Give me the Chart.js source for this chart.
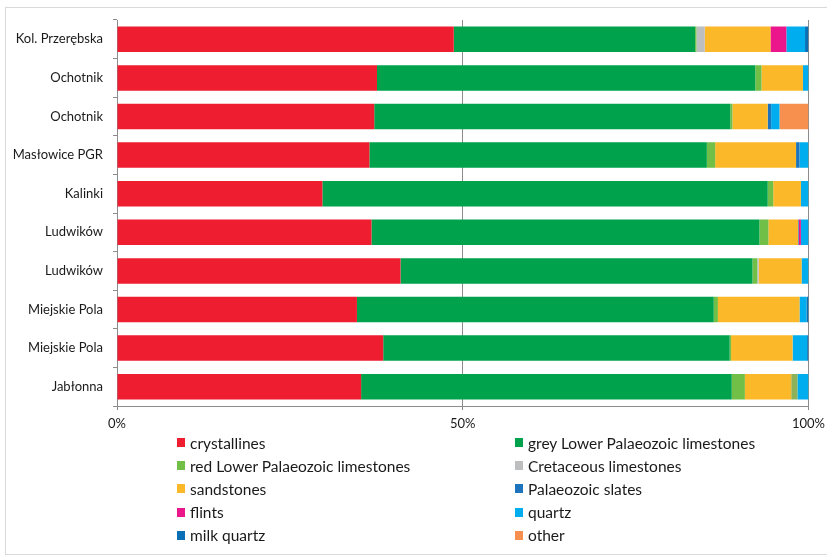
<!DOCTYPE html>
<html>
<head>
<meta charset="utf-8">
<script src="https://cdn.jsdelivr.net/npm/chart.js@4.4.1/dist/chart.umd.min.js"></script>
<style>
  html, body { margin: 0; padding: 0; background: #fff; }
  body { width: 827px; height: 555px; position: relative; overflow: hidden; font-family: Lato, sans-serif; }
  #frame { position: absolute; left: 5px; top: 7px; width: 900px; height: 546px; border: 1px solid #d9d9d9; }
  #wrap { position: absolute; left: 0; top: 0; width: 827px; height: 436px; }
  #legend { position: absolute; left: 177px; top: 431px; display: grid; grid-template-columns: 338px 300px; grid-auto-rows: 23.2px; color: #1a1a1a; font-size: 15.5px; }
  #legend .item { display: flex; align-items: center; white-space: nowrap; }
  #legend .box { width: 8px; height: 9px; margin-right: 5px; }
</style>
</head>
<body>
<div id="frame"></div>
<div id="wrap"><canvas id="chart"></canvas></div>
<div id="legend"></div>
<script>
var sites = ["Kol. Przerębska", "Ochotnik", "Ochotnik", "Masłowice PGR", "Kalinki", "Ludwików", "Ludwików", "Miejskie Pola", "Miejskie Pola", "Jabłonna"];

var crystallines = [48.7, 37.6, 37.2, 36.5, 29.7, 36.8, 41.0, 34.7, 38.5, 35.3];
var greyLimestones = [34.9, 54.7, 51.5, 48.8, 64.4, 56.1, 50.9, 51.6, 50.1, 53.6];
var redLimestones = [0.2, 0.9, 0.3, 1.2, 0.8, 1.3, 0.7, 0.6, 0.2, 1.9];
var cretaceous = [1.2, 0, 0, 0, 0, 0, 0.2, 0, 0, 0];
var sandstones = [9.5, 6.0, 5.1, 11.7, 4.0, 4.3, 6.2, 11.8, 8.9, 6.7];
var slates = [0, 0, 0.5, 0.5, 0, 0.1, 0, 0, 0, 0];
var flints = [2.3, 0, 0, 0, 0, 0.3, 0, 0, 0, 0];
var redLimestonesLate = [0, 0, 0, 0, 0, 0, 0, 0, 0, 0.9];
var quartz = [2.7, 0.8, 1.2, 1.3, 1.1, 1.1, 1.0, 1.0, 2.1, 1.6];
var milkQuartz = [0.5, 0, 0, 0, 0, 0, 0, 0.3, 0.2, 0];
var other = [0, 0, 4.2, 0, 0, 0, 0, 0, 0, 0];

var xTicks = ["0%", "50%", "100%"];

document.addEventListener("DOMContentLoaded", function() {
  var series = [
    { label: "crystallines", color: "#ee1d2f", data: crystallines },
    { label: "grey Lower Palaeozoic limestones", color: "#00a34c", data: greyLimestones },
    { label: "red Lower Palaeozoic limestones", color: "#72bf47", data: redLimestones },
    { label: "Cretaceous limestones", color: "#bcbec0", data: cretaceous },
    { label: "sandstones", color: "#fbb829", data: sandstones },
    { label: "Palaeozoic slates", color: "#1c75bc", data: slates },
    { label: "flints", color: "#ec168c", data: flints },
    { label: "", color: "#8db25a", data: redLimestonesLate, noLegend: true },
    { label: "quartz", color: "#00aeef", data: quartz },
    { label: "milk quartz", color: "#0a6fb4", data: milkQuartz },
    { label: "other", color: "#f7904f", data: other }
  ];

  var ctx = document.getElementById("chart").getContext("2d");
  new Chart(ctx, {
    type: "bar",
    data: {
      labels: sites,
      datasets: series.map(function(s) {
        return {
          label: s.label,
          data: s.data,
          backgroundColor: s.color,
          borderWidth: 0,
          barPercentage: 0.66,
          categoryPercentage: 1
        };
      })
    },
    options: {
      indexAxis: "y",
      responsive: true,
      maintainAspectRatio: false,
      animation: false,
      layout: { padding: { left: 5, top: 20, right: 18.5, bottom: 0 } },
      plugins: { legend: { display: false }, tooltip: { enabled: false } },
      scales: {
        x: {
          stacked: true,
          min: 0,
          max: 100,
          // keep the "100%" label from pushing the plot inwards
          afterFit: function(s) { s.height = 30; s.paddingLeft = 0; s.paddingRight = 0; },
          ticks: {
            stepSize: 50,
            padding: 6,
            color: "#1a1a1a",
            font: { family: "Lato", size: 13 },
            callback: function(value) { return xTicks[value / 50]; }
          },
          grid: { color: "#8c8c8c", tickLength: 4, tickColor: "#8c8c8c" },
          border: { color: "#8c8c8c" }
        },
        y: {
          stacked: true,
          afterFit: function(s) { s.width = 112; },
          ticks: {
            padding: 10,
            color: "#1a1a1a",
            font: { family: "Lato", size: 13 }
          },
          grid: { drawOnChartArea: false, tickLength: 4, tickColor: "#8c8c8c", offset: true },
          border: { color: "#8c8c8c" }
        }
      }
    }
  });

  var legend = document.getElementById("legend");
  series.forEach(function(s) {
    if (s.noLegend) return;
    var item = document.createElement("div");
    item.className = "item";
    var box = document.createElement("span");
    box.className = "box";
    box.style.background = s.color;
    var text = document.createElement("span");
    text.textContent = s.label;
    item.appendChild(box);
    item.appendChild(text);
    legend.appendChild(item);
  });
});
</script>
</body>
</html>
